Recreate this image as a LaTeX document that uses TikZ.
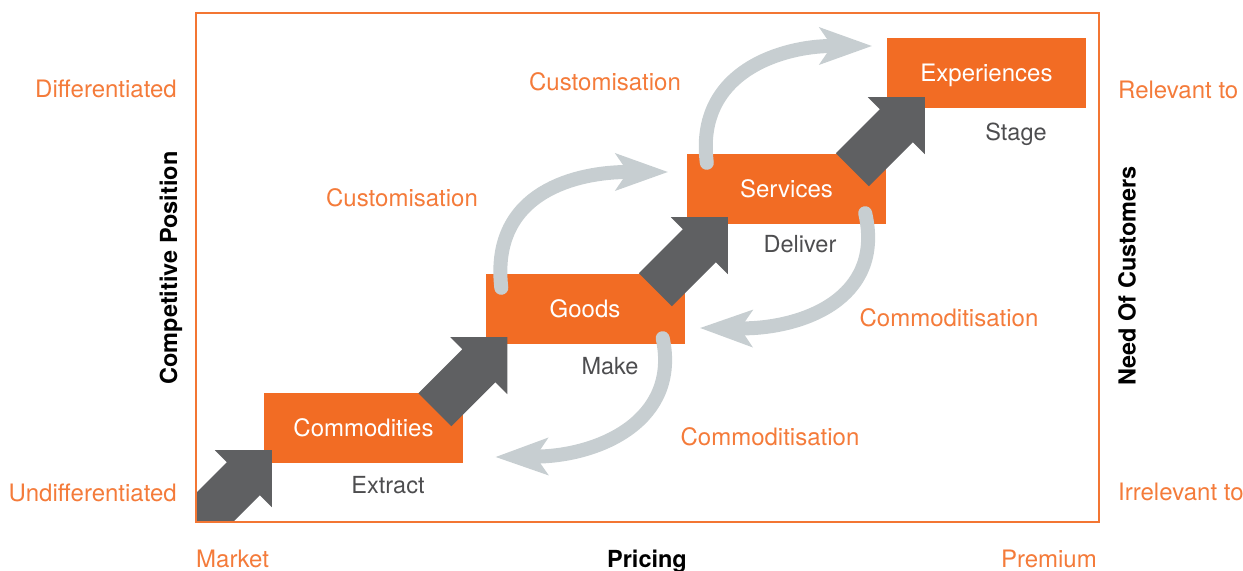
\documentclass[tikz,border=0pt]{standalone}
\usepackage{fontspec}
\setmainfont{TeX Gyre Heros}
\usetikzlibrary{arrows.meta}

\definecolor{boxorange}{HTML}{F26C24}
\definecolor{labelorange}{HTML}{F47B3A}
\definecolor{frameorange}{HTML}{F37633}
\definecolor{blockgrey}{HTML}{5F6062}
\definecolor{flowgrey}{HTML}{C7CED1}
\definecolor{subgrey}{HTML}{4D4D4F}

% block arrow: #1 = tip coordinate, #2 = distance from tip to tail centre
\newcommand\blockarrow[2]{%
  \fill[blockarrow, shift={(#1)}]
    (0,0) -- (0,57) -- (-12,45) -- ({-#2+16.5},{#2+16.5})
    -- ({-#2-16.5},{#2-16.5}) -- (-45,12) -- (-57,0) -- cycle;}

\begin{document}
\begin{tikzpicture}[x=1bp, y=-1bp,
  stagebox/.style={fill=boxorange, text=white, minimum width=199bp,
    minimum height=70bp, inner sep=0pt, text height=17bp, text depth=0pt,
    font=\fontsize{24bp}{28bp}\selectfont},
  orangelabel/.style={text=labelorange, inner sep=0pt,
    font=\fontsize{24bp}{28bp}\selectfont},
  sublabel/.style={text=subgrey, inner sep=0pt, anchor=base,
    font=\fontsize{23.5bp}{28bp}\selectfont},
  axislabel/.style={text=black, inner sep=0pt,
    font=\fontsize{23.5bp}{28bp}\selectfont\bfseries},
  blockarrow/.style={fill=blockgrey},
  flow/.style={draw=flowgrey, line width=14bp, line cap=round,
    -{Stealth[length=53bp, width=38bp, inset=13bp, line width=0pt]}},
  frame/.style={draw=frameorange, line width=2bp}]

\useasboundingbox (0,0) rectangle (1243,571);

% stages
\node[stagebox] (commodities) at (363.5,428) {Commodities};
\node[stagebox] (goods)       at (585,309)   {Goods};
\node[stagebox] (services)    at (786.5,189) {Services};
\node[stagebox] (experiences) at (986.5,73)  {Experiences};

% what each stage does
\node[sublabel] (extract) at (388,493)  {Extract};
\node[sublabel] (make)    at (610,374)  {Make};
\node[sublabel] (deliver) at (800,253)  {Deliver};
\node[sublabel] (stage)   at (1016,141) {Stage};

% tips of the progression arrows
\path (commodities.south west) ++(8,-13)  coordinate (tipA);
\path (goods.south west)       ++(22,-7)  coordinate (tipB);
\path (services.south west)    ++(41,-7)  coordinate (tipC);
\path (experiences.south west) ++(38,-11) coordinate (tipD);

\begin{scope}
  \clip (196,13) rectangle (1099,522);
  \blockarrow{tipA}{110}
\end{scope}
\blockarrow{tipB}{72.5}
\blockarrow{tipC}{72.5}
\blockarrow{tipD}{72.5}

% customisation and commoditisation loops
\draw[flow] ([shift={(16,14)}]goods.north west)
  .. controls (490,190) and (580,172) .. ([shift={(-19,-17)}]services.west);
\draw[flow] ([shift={(20,9)}]services.north west)
  .. controls (695,70) and (785,46) .. ([shift={(-15,-27)}]experiences.west);
\draw[flow] ([shift={(-22,-6)}]goods.south east)
  .. controls (680,420) and (600,456) .. ([shift={(32.5,29)}]commodities.east);
\draw[flow] ([shift={(-21,-11)}]services.south east)
  .. controls (885,300) and (800,329) .. ([shift={(15.5,19)}]goods.east);

\node[orangelabel, anchor=base] (cust1) at (605,91)  {Customisation};
\node[orangelabel, anchor=base] (cust2) at (402,207) {Customisation};
\node[orangelabel, anchor=base] (comm1) at (949,327) {Commoditisation};
\node[orangelabel, anchor=base] (comm2) at (770,445) {Commoditisation};

% frame and axes
\draw[frame] (196,13) rectangle (1099,522);

\node[orangelabel, anchor=base east] (diff)   at (177,98)  {Differentiated};
\node[orangelabel, anchor=base east] (undiff) at (177,501) {Undifferentiated};
\node[orangelabel, anchor=base west] (rel)    at (1118,99) {Relevant to};
\node[orangelabel, anchor=base west] (irrel)  at (1118,500) {Irrelevant to};
\node[orangelabel, anchor=base west] (market) at (196,567) {Market};
\node[orangelabel, anchor=base east] (premium) at (1097,567) {Premium};
\node[axislabel, anchor=base] (pricing) at (647,567) {Pricing};

\node[axislabel, rotate=90] (competitive) at (171,268) {Competitive Position};
\node[axislabel, rotate=90] (need) at (1127,276) {Need Of Customers};
\end{tikzpicture}
\end{document}
